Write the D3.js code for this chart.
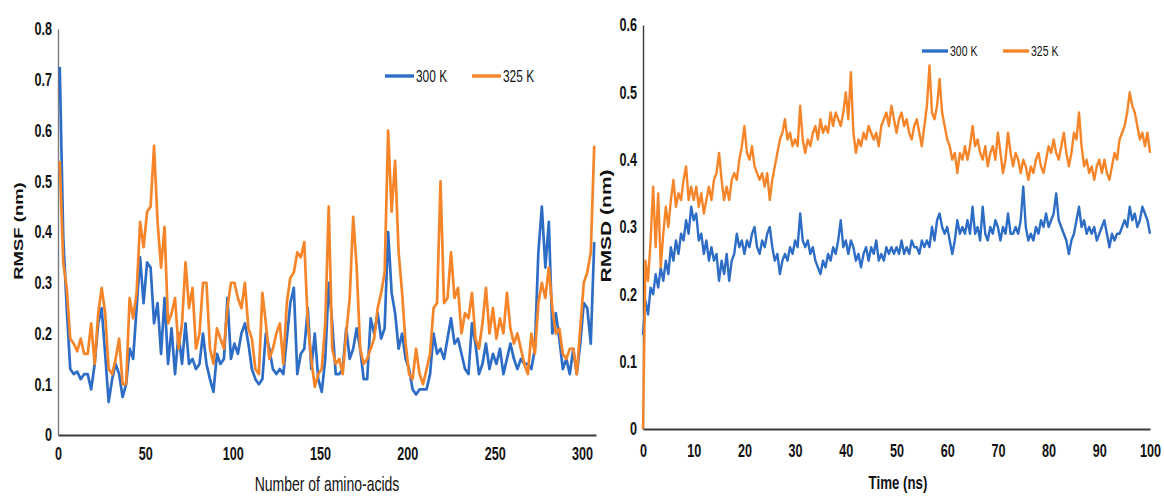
<!DOCTYPE html>
<html>
<head>
<meta charset="utf-8">
<script src="https://cdn.jsdelivr.net/npm/d3@7"></script>
<style>
  body { margin: 0; background: #fff; }
  svg { display: block; font-family: "Liberation Sans", Arial, sans-serif; }
</style>
</head>
<body>
<script>
// ---- data ----
// left panel: RMSF per residue (every second residue)
const residues = d3.range(1, 308, 2);
const rmsf300 = [
    0.725,0.39,0.25,0.13,0.12,0.125,0.11,0.12,0.12,0.09,
    0.14,0.22,0.25,0.16,0.065,0.11,0.14,0.12,0.075,0.10,
    0.17,0.15,0.25,0.35,0.26,0.34,0.33,0.22,0.26,0.16,
    0.27,0.14,0.21,0.12,0.20,0.14,0.22,0.14,0.15,0.13,
    0.14,0.20,0.14,0.11,0.085,0.16,0.14,0.15,0.27,0.15,
    0.18,0.16,0.20,0.22,0.18,0.13,0.11,0.10,0.11,0.20,
    0.17,0.13,0.12,0.13,0.12,0.19,0.26,0.29,0.12,0.16,
    0.17,0.25,0.13,0.20,0.11,0.085,0.15,0.30,0.22,0.12,
    0.12,0.13,0.21,0.15,0.17,0.21,0.17,0.11,0.11,0.23,
    0.20,0.24,0.19,0.21,0.40,0.28,0.24,0.17,0.20,0.15,
    0.13,0.09,0.08,0.09,0.09,0.09,0.12,0.20,0.16,0.17,
    0.15,0.19,0.23,0.18,0.19,0.16,0.13,0.12,0.22,0.18,
    0.12,0.14,0.18,0.13,0.16,0.14,0.17,0.12,0.15,0.18,
    0.15,0.13,0.15,0.14,0.14,0.13,0.17,0.36,0.45,0.33,
    0.42,0.20,0.24,0.19,0.13,0.15,0.12,0.17,0.12,0.18,
    0.26,0.25,0.18,0.38
];
const rmsf325 = [
    0.54,0.34,0.29,0.19,0.18,0.165,0.19,0.16,0.16,0.22,
    0.14,0.24,0.29,0.24,0.13,0.12,0.15,0.19,0.10,0.10,
    0.27,0.23,0.28,0.42,0.37,0.44,0.45,0.57,0.42,0.33,
    0.41,0.22,0.24,0.27,0.17,0.22,0.34,0.25,0.29,0.17,
    0.20,0.30,0.30,0.17,0.14,0.21,0.19,0.17,0.25,0.30,
    0.30,0.27,0.25,0.30,0.21,0.19,0.13,0.12,0.28,0.22,
    0.15,0.17,0.20,0.22,0.14,0.26,0.31,0.32,0.36,0.35,
    0.38,0.22,0.15,0.095,0.12,0.13,0.22,0.45,0.17,0.14,
    0.15,0.12,0.20,0.27,0.43,0.33,0.17,0.14,0.15,0.17,
    0.19,0.25,0.28,0.32,0.60,0.44,0.54,0.36,0.28,0.18,
    0.12,0.11,0.17,0.12,0.10,0.13,0.16,0.25,0.26,0.50,
    0.26,0.27,0.36,0.27,0.29,0.20,0.24,0.23,0.28,0.19,
    0.17,0.22,0.29,0.20,0.25,0.19,0.23,0.20,0.28,0.21,
    0.18,0.20,0.17,0.14,0.12,0.20,0.16,0.26,0.30,0.27,
    0.33,0.25,0.20,0.21,0.16,0.15,0.17,0.17,0.12,0.21,
    0.30,0.32,0.36,0.57
];

// right panel: RMSD every 0.5 ns
const timeNs = d3.range(0, 100.5, 0.5);
const rmsd300 = [
    0.14,0.19,0.17,0.21,0.20,0.23,0.21,0.24,0.22,0.25,
    0.23,0.27,0.25,0.28,0.26,0.29,0.28,0.31,0.29,0.33,
    0.31,0.32,0.28,0.29,0.26,0.28,0.25,0.27,0.25,0.26,
    0.22,0.25,0.23,0.26,0.22,0.25,0.26,0.29,0.27,0.28,
    0.26,0.28,0.27,0.29,0.30,0.27,0.26,0.28,0.27,0.29,
    0.30,0.27,0.25,0.26,0.23,0.25,0.26,0.25,0.27,0.26,
    0.28,0.27,0.32,0.28,0.27,0.28,0.26,0.27,0.25,0.24,
    0.23,0.25,0.24,0.26,0.25,0.27,0.26,0.28,0.31,0.27,
    0.28,0.26,0.28,0.27,0.25,0.26,0.24,0.26,0.27,0.25,
    0.27,0.26,0.28,0.25,0.26,0.25,0.27,0.26,0.27,0.26,
    0.27,0.26,0.28,0.26,0.27,0.26,0.28,0.27,0.27,0.26,
    0.28,0.27,0.28,0.27,0.30,0.28,0.31,0.32,0.30,0.29,
    0.30,0.28,0.26,0.28,0.31,0.29,0.30,0.29,0.31,0.29,
    0.33,0.29,0.30,0.28,0.33,0.29,0.28,0.30,0.29,0.31,
    0.30,0.28,0.30,0.29,0.32,0.29,0.29,0.30,0.29,0.31,
    0.36,0.30,0.28,0.29,0.28,0.30,0.29,0.31,0.30,0.32,
    0.30,0.31,0.32,0.35,0.31,0.30,0.29,0.28,0.26,0.28,
    0.29,0.31,0.33,0.30,0.31,0.29,0.30,0.29,0.30,0.28,
    0.29,0.30,0.31,0.29,0.27,0.29,0.28,0.29,0.29,0.30,
    0.31,0.30,0.33,0.31,0.32,0.30,0.31,0.33,0.32,0.31,
    0.29
];
const rmsd325 = [
    0.00,0.25,0.22,0.28,0.36,0.27,0.35,0.24,0.29,0.33,
    0.30,0.34,0.37,0.33,0.35,0.34,0.37,0.39,0.34,0.36,
    0.34,0.36,0.33,0.35,0.32,0.34,0.36,0.34,0.37,0.38,
    0.41,0.37,0.34,0.36,0.34,0.37,0.38,0.37,0.40,0.42,
    0.45,0.41,0.40,0.42,0.39,0.38,0.37,0.38,0.36,0.38,
    0.34,0.37,0.39,0.41,0.43,0.44,0.46,0.43,0.44,0.42,
    0.43,0.42,0.48,0.43,0.41,0.43,0.42,0.44,0.45,0.43,
    0.46,0.44,0.45,0.44,0.47,0.45,0.47,0.46,0.45,0.47,
    0.50,0.46,0.53,0.44,0.41,0.43,0.42,0.44,0.43,0.45,
    0.44,0.43,0.44,0.42,0.45,0.46,0.47,0.45,0.48,0.46,
    0.44,0.46,0.47,0.45,0.46,0.44,0.43,0.45,0.46,0.44,
    0.42,0.45,0.48,0.54,0.47,0.46,0.48,0.52,0.47,0.45,
    0.43,0.42,0.40,0.41,0.38,0.41,0.40,0.42,0.40,0.42,
    0.45,0.42,0.43,0.41,0.40,0.42,0.39,0.41,0.42,0.40,
    0.44,0.41,0.38,0.40,0.44,0.41,0.39,0.41,0.40,0.38,
    0.40,0.39,0.37,0.39,0.38,0.40,0.41,0.39,0.38,0.40,
    0.42,0.41,0.43,0.41,0.40,0.42,0.44,0.41,0.39,0.41,
    0.44,0.43,0.47,0.42,0.39,0.40,0.38,0.39,0.37,0.39,
    0.40,0.38,0.40,0.38,0.37,0.39,0.41,0.40,0.43,0.44,
    0.45,0.47,0.50,0.48,0.47,0.45,0.43,0.44,0.42,0.44,
    0.41
];

const rmsfTicks = [0, 0.1, 0.2, 0.3, 0.4, 0.5, 0.6, 0.7, 0.8];
const residueTicks = [0, 50, 100, 150, 200, 250, 300];
const rmsdTicks = [0, 0.1, 0.2, 0.3, 0.4, 0.5, 0.6];
const timeTicks = [0, 10, 20, 30, 40, 50, 60, 70, 80, 90, 100];
const seriesNames = ["300 K", "325 K"];
const colors = { "300 K": "#2E6DC6", "325 K": "#F6852A" };

// the source figure is squeezed horizontally; text is squeezed the same way
const SQ = 0.7;

const svg = d3.select("body").append("svg")
    .attr("width", 1164)
    .attr("height", 496);

function valueFmt(d) { return d === 0 ? "0" : d3.format(".1f")(d); }

function drawPanel(p) {
    const x = d3.scaleLinear().domain(p.xDomain).range(p.xRange);
    const y = d3.scaleLinear().domain(p.yDomain).range(p.yRange);

    // axes
    const gx = svg.append("g")
        .attr("transform", `translate(0,${p.yRange[0]})`)
        .call(d3.axisBottom(x).tickValues(p.xTicks).tickSize(0).tickSizeOuter(0).tickPadding(p.xPad));
    gx.select(".domain").attr("stroke", "#3a3a3a").attr("stroke-width", 2.2);

    const gy = svg.append("g")
        .attr("transform", `translate(${p.xRange[0]},0)`)
        .call(d3.axisLeft(y).tickValues(p.yTicks).tickFormat(valueFmt)
            .tickSize(0).tickSizeOuter(0).tickPadding(p.yPad / SQ));
    gy.select(".domain").attr("stroke", p.yAxisColor).attr("stroke-width", 1.4);

    [gx, gy].forEach((g) => {
        g.attr("font-family", null).attr("font-size", null);
        g.selectAll("text")
            .attr("fill", "#111")
            .style("font-size", p.tickSize + "px")
            .style("font-weight", "bold")
            .attr("transform", `scale(${SQ},1)`);
    });

    // lines
    const line = d3.line()
        .x((d, i) => x(p.xs[i]))
        .y((d) => y(d));
    p.series.forEach((s, k) => {
        svg.append("path")
            .datum(s)
            .attr("fill", "none")
            .attr("stroke", colors[seriesNames[k]])
            .attr("stroke-width", p.lineWidth)
            .attr("stroke-linejoin", "round")
            .attr("d", line);
    });

    // axis titles
    svg.append("text")
        .attr("transform", `translate(${p.xTitle.x},${p.xTitle.y}) scale(${SQ},1)`)
        .attr("text-anchor", "middle")
        .style("font-size", p.xTitle.size + "px")
        .style("font-weight", p.xTitle.weight)
        .attr("fill", "#111")
        .text(p.xTitle.text);
    svg.append("text")
        .attr("transform", `translate(${p.yTitle.x},${p.yTitle.y}) scale(${SQ},1) rotate(-90)`)
        .attr("text-anchor", "middle")
        .attr("dy", "0.35em")
        .style("font-size", p.yTitle.size + "px")
        .style("font-weight", "bold")
        .attr("fill", "#111")
        .text(p.yTitle.text);

    // legend
    seriesNames.forEach((name, k) => {
        const lx = p.legend.x + k * p.legend.step;
        svg.append("line")
            .attr("x1", lx).attr("x2", lx + p.legend.len)
            .attr("y1", p.legend.y).attr("y2", p.legend.y)
            .attr("stroke", colors[name])
            .attr("stroke-width", 3.4);
        svg.append("text")
            .attr("transform", `translate(${lx + p.legend.len + 2},${p.legend.y}) scale(${SQ},1)`)
            .attr("dy", "0.36em")
            .style("font-size", p.legend.size + "px")
            .attr("fill", "#111")
            .text(name);
    });
}

drawPanel({
    xDomain: [0, 308], xRange: [58, 596],
    yDomain: [0, 0.8], yRange: [435, 29],
    xTicks: residueTicks, yTicks: rmsfTicks,
    xPad: 12, yPad: 6, tickSize: 18, yAxisColor: "#7a7a7a",
    xs: residues, series: [rmsf300, rmsf325], lineWidth: 2.7,
    xTitle: { text: "Number of amino-acids", x: 327, y: 491, size: 20, weight: "normal" },
    yTitle: { text: "RMSF (nm)", x: 18.5, y: 231, size: 18.5 },
    legend: { x: 385, y: 76, len: 29, step: 87, size: 17 }
});

drawPanel({
    xDomain: [0, 100], xRange: [643, 1150],
    yDomain: [0, 0.6], yRange: [429, 25],
    xTicks: timeTicks, yTicks: rmsdTicks,
    xPad: 15, yPad: 6, tickSize: 18, yAxisColor: "#3a3a3a",
    xs: timeNs, series: [rmsd300, rmsd325], lineWidth: 2.4,
    xTitle: { text: "Time (ns)", x: 898, y: 489, size: 19, weight: "bold" },
    yTitle: { text: "RMSD (nm)", x: 605.5, y: 226, size: 21 },
    legend: { x: 922, y: 51, len: 26, step: 81, size: 15 }
});
</script>
</body>
</html>
